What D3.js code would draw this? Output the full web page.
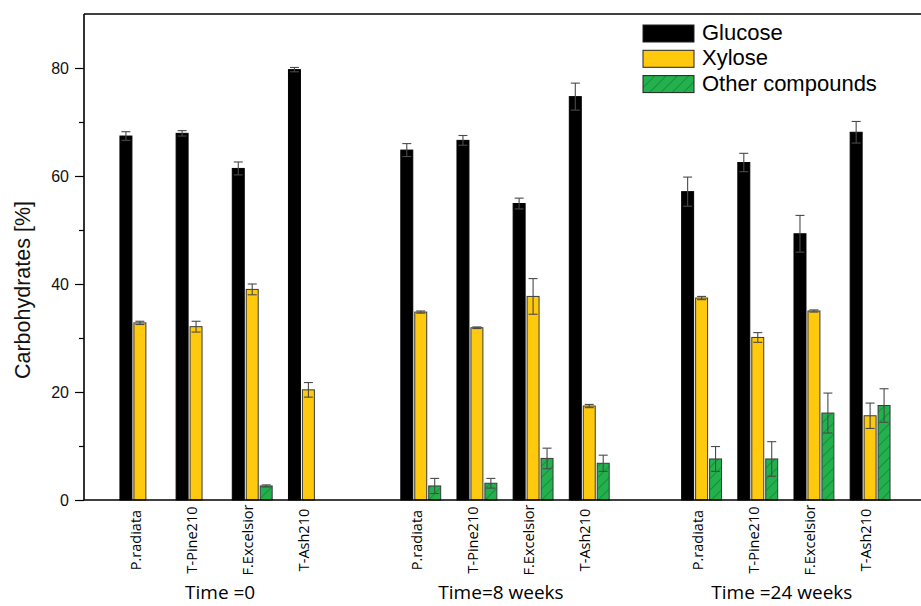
<!DOCTYPE html>
<html>
<head>
<meta charset="utf-8">
<script src="https://cdn.jsdelivr.net/npm/d3@7"></script>
<style>
  html, body { margin: 0; padding: 0; background: #fff; }
  svg { display: block; }
</style>
</head>
<body>
<svg id="chart" width="921" height="606"></svg>
<script>
// Sampling periods and wood samples
const times = ["Time =0", "Time=8 weeks", "Time =24 weeks"];
const species = ["P.radiata", "T-Pine210", "F.Excelsior", "T-Ash210"];
const seriesNames = ["Glucose", "Xylose", "Other compounds"];

// Carbohydrate content [%], 4 samples per period (period order as in `times`)
const glucose = [67.4, 67.9, 61.4, 79.7, 64.8, 66.6, 54.9, 74.7, 57.1, 62.5, 49.3, 68.1];
const xylose  = [32.8, 32.1, 39.0, 20.4, 34.8, 31.9, 37.7, 17.4, 37.4, 30.1, 35.0, 15.6];
const other   = [null, null, 2.6, null, 2.6, 3.1, 7.7, 6.8, 7.6, 7.6, 16.1, 17.5];

// Standard deviations
const glucoseErr = [0.8, 0.5, 1.2, 0.4, 1.2, 0.9, 1.0, 2.5, 2.7, 1.7, 3.4, 2.0];
const xyloseErr  = [0.3, 1.0, 1.0, 1.35, 0.2, 0.15, 3.3, 0.3, 0.3, 0.9, 0.2, 2.35];
const otherErr   = [0.2, 0.2, 0.2, 0.2, 1.4, 0.9, 1.9, 1.5, 2.3, 3.2, 3.7, 3.1];

const yTicks = [0, 20, 40, 60, 80];
const yMinorTicks = [10, 30, 50, 70];

const colors = { Glucose: "#000000", Xylose: "#FFC90E", "Other compounds": "#22B14C" };

const svg = d3.select("#chart");
const plotLeft = 84, plotTop = 14, plotBottom = 500, plotRight = 926;

// Slot layout: 4 samples per period, one empty slot between periods
const slots = [];
times.forEach((t, ti) => {
  species.forEach(s => slots.push(t + "|" + s));
  if (ti < times.length - 1) slots.push("gap" + ti);
});

const x = d3.scaleBand().domain(slots).range([plotLeft, plotRight])
  .paddingInner(0.29).paddingOuter(0.64);
const xs = d3.scaleBand().domain(seriesNames).range([0, x.bandwidth()])
  .paddingInner(1 / 7).paddingOuter(0);
const y = d3.scaleLinear().domain([0, 90]).range([plotBottom, plotTop]);

// Hatch for the third series
const defs = svg.append("defs");
const pat = defs.append("pattern")
  .attr("id", "hatch").attr("patternUnits", "userSpaceOnUse")
  .attr("width", 8).attr("height", 8)
  .attr("patternTransform", "rotate(45)");
pat.append("rect").attr("width", 8).attr("height", 8).attr("fill", colors["Other compounds"]);
pat.append("line").attr("x1", 0).attr("y1", 0).attr("x2", 0).attr("y2", 8)
  .attr("stroke", "#145f2a").attr("stroke-width", 0.9);

function fillFor(name) {
  return name === "Other compounds" ? "url(#hatch)" : colors[name];
}

// Flatten data into bar records
const values = { Glucose: glucose, Xylose: xylose, "Other compounds": other };
const errors = { Glucose: glucoseErr, Xylose: xyloseErr, "Other compounds": otherErr };
const bars = [];
times.forEach((t, ti) => {
  species.forEach((s, si) => {
    const i = ti * species.length + si;
    seriesNames.forEach(name => {
      const v = values[name][i];
      if (v !== null && v !== undefined) {
        bars.push({ key: t + "|" + s, name, v, e: errors[name][i] });
      }
    });
  });
});

const gBars = svg.append("g");
gBars.selectAll("rect").data(bars).join("rect")
  .attr("x", d => x(d.key) + xs(d.name))
  .attr("y", d => y(d.v))
  .attr("width", xs.bandwidth())
  .attr("height", d => y(0) - y(d.v))
  .attr("fill", d => fillFor(d.name))
  .attr("stroke", d => d.name === "Glucose" ? "#000" : "#3a3a3a")
  .attr("stroke-width", 1);

// Error bars
const capHalf = 4.5;
const gErr = svg.append("g").attr("stroke", "#4a4a4a").attr("stroke-width", 1.1);
bars.forEach(d => {
  const cx = x(d.key) + xs(d.name) + xs.bandwidth() / 2;
  const y1 = y(d.v + d.e), y2 = y(Math.max(0, d.v - d.e));
  gErr.append("line").attr("x1", cx).attr("x2", cx).attr("y1", y1).attr("y2", y2);
  gErr.append("line").attr("x1", cx - capHalf).attr("x2", cx + capHalf).attr("y1", y1).attr("y2", y1);
  gErr.append("line").attr("x1", cx - capHalf).attr("x2", cx + capHalf).attr("y1", y2).attr("y2", y2);
});

// Frame: bottom axis and top border
const frame = svg.append("g").attr("stroke", "#000").attr("stroke-width", 1.6).attr("fill", "none");
frame.append("line").attr("x1", plotLeft).attr("x2", 921).attr("y1", plotTop).attr("y2", plotTop);
frame.append("line").attr("x1", plotLeft).attr("x2", 921).attr("y1", plotBottom).attr("y2", plotBottom);

const yAxis = d3.axisLeft(y).tickValues(yTicks).tickSize(9).tickPadding(6).tickFormat(d3.format("d"));
const gy = svg.append("g").attr("transform", `translate(${plotLeft},0)`).call(yAxis);
gy.select(".domain").attr("d", `M0,${plotBottom}V${plotTop}`).attr("stroke-width", 1.6);
gy.selectAll(".tick line").attr("stroke-width", 1.2);
gy.selectAll("text").attr("font-family", "Liberation Sans, Arial, sans-serif").attr("font-size", 16).attr("fill", "#111");

const yMinor = d3.axisLeft(y).tickValues(yMinorTicks).tickSize(5).tickFormat("");
const gym = svg.append("g").attr("transform", `translate(${plotLeft},0)`).call(yMinor);
gym.select(".domain").remove();
gym.selectAll(".tick line").attr("stroke-width", 1.2);

// Y title
svg.append("text")
  .attr("transform", "translate(30,290) rotate(-90)")
  .attr("text-anchor", "middle")
  .attr("font-family", "Liberation Sans, Arial, sans-serif")
  .attr("font-size", 21.5)
  .attr("fill", "#111")
  .text("Carbohydrates [%]");

// Sample labels (rotated) and period titles
const labelFont = "'Open Sans', 'Noto Sans', sans-serif";
times.forEach(t => {
  species.forEach(s => {
    const bx = x(t + "|" + s) + 21;
    svg.append("text")
      .attr("transform", `translate(${bx},540) rotate(-90)`)
      .attr("text-anchor", "middle")
      .attr("font-family", labelFont)
      .attr("font-size", 14.5)
      .attr("fill", "#000")
      .text(s);
  });
  const first = x(t + "|" + species[0]);
  const last = x(t + "|" + species[species.length - 1]) + x.bandwidth();
  svg.append("text")
    .attr("x", (first + last) / 2 - 4)
    .attr("y", 599)
    .attr("text-anchor", "middle")
    .attr("font-family", labelFont)
    .attr("font-size", 19)
    .attr("fill", "#000")
    .text(t);
});

// Legend
const legend = svg.append("g").attr("transform", "translate(643,25)");
seriesNames.forEach((name, i) => {
  const g = legend.append("g").attr("transform", `translate(0,${i * 25.3})`);
  g.append("rect").attr("width", 51).attr("height", 17)
    .attr("fill", fillFor(name)).attr("stroke", "#222").attr("stroke-width", 1);
  g.append("text").attr("x", 59).attr("y", 15)
    .attr("font-family", "Liberation Sans, Arial, sans-serif")
    .attr("font-size", 22).attr("fill", "#000")
    .text(name);
});
</script>
</body>
</html>
